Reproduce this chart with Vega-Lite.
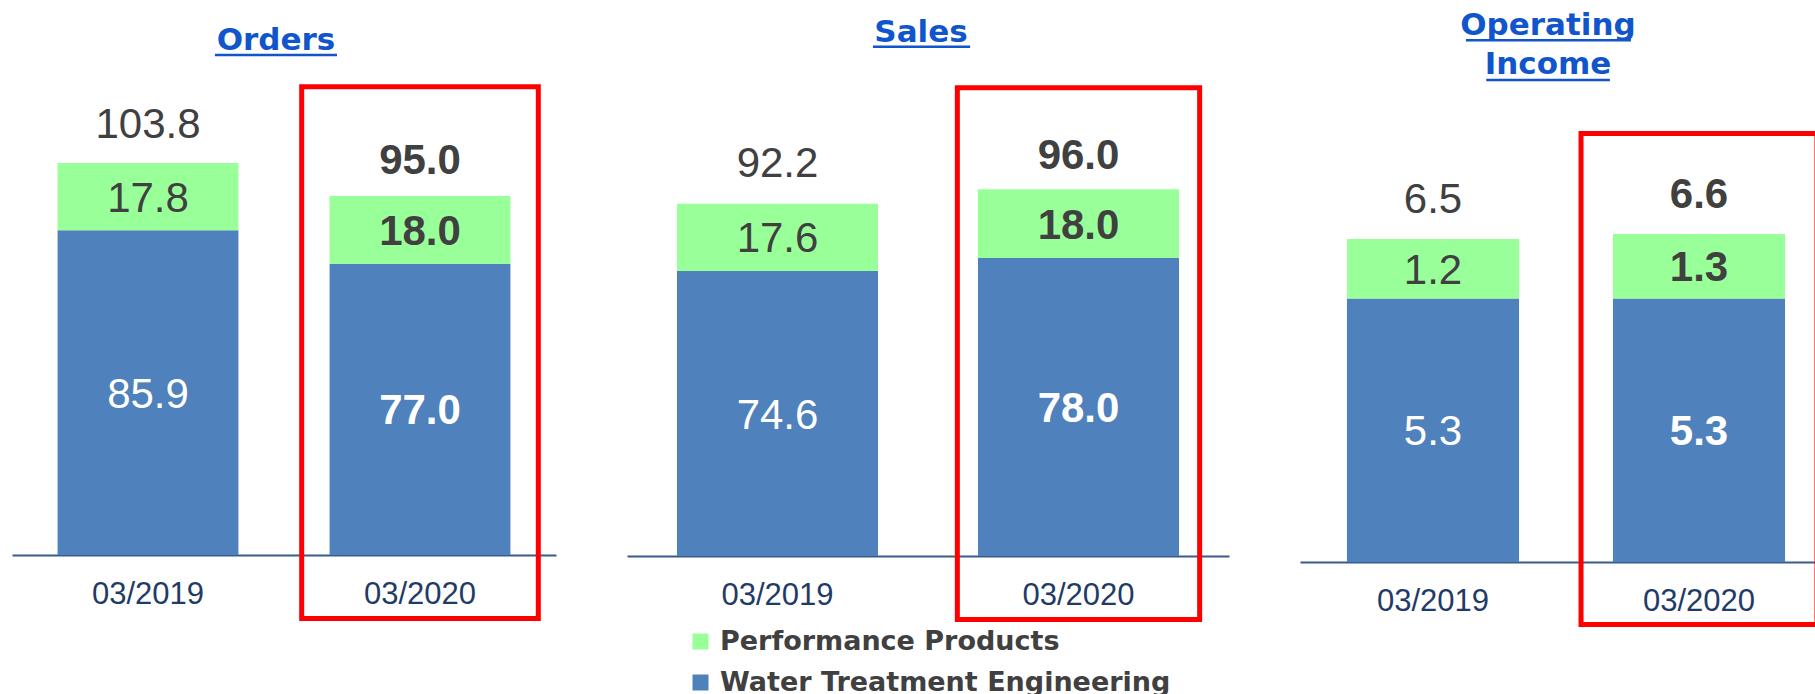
{
  "$schema": "https://vega.github.io/schema/vega-lite/v6.json",
  "padding": {"left": 12, "top": 9, "right": 0, "bottom": 0},
  "datasets": {
    "segments": [
      {"panel": "Orders", "period": "03/2019", "segment": "Water Treatment Engineering", "value": 85.9},
      {"panel": "Orders", "period": "03/2019", "segment": "Performance Products", "value": 17.8},
      {"panel": "Orders", "period": "03/2020", "segment": "Water Treatment Engineering", "value": 77.0},
      {"panel": "Orders", "period": "03/2020", "segment": "Performance Products", "value": 18.0},
      {"panel": "Sales", "period": "03/2019", "segment": "Water Treatment Engineering", "value": 74.6},
      {"panel": "Sales", "period": "03/2019", "segment": "Performance Products", "value": 17.6},
      {"panel": "Sales", "period": "03/2020", "segment": "Water Treatment Engineering", "value": 78.0},
      {"panel": "Sales", "period": "03/2020", "segment": "Performance Products", "value": 18.0},
      {"panel": "Operating Income", "period": "03/2019", "segment": "Water Treatment Engineering", "value": 5.3},
      {"panel": "Operating Income", "period": "03/2019", "segment": "Performance Products", "value": 1.2},
      {"panel": "Operating Income", "period": "03/2020", "segment": "Water Treatment Engineering", "value": 5.3},
      {"panel": "Operating Income", "period": "03/2020", "segment": "Performance Products", "value": 1.3}
    ],
    "totals": [
      {"panel": "Orders", "period": "03/2019", "total": 103.8},
      {"panel": "Orders", "period": "03/2020", "total": 95.0},
      {"panel": "Sales", "period": "03/2019", "total": 92.2},
      {"panel": "Sales", "period": "03/2020", "total": 96.0},
      {"panel": "Operating Income", "period": "03/2019", "total": 6.5},
      {"panel": "Operating Income", "period": "03/2020", "total": 6.6}
    ]
  },
  "spacing": 71,
  "bounds": "flush",
  "resolve": {"scale": {"color": "independent"}},
  "hconcat": [
    {
      "width": 544,
      "height": 471,
      "title": {"text": "Orders", "font": "DejaVu Sans", "fontWeight": "bold", "fontSize": 31, "color": "#1155CC", "baseline": "alphabetic", "offset": -27, "dx": -8, "anchor": "middle"},
      "layer": [
        {
          "data": {"name": "segments"},
          "transform": [{"filter": "datum.panel === 'Orders'"}],
          "mark": {"type": "bar", "width": {"band": 0.665}},
          "encoding": {
            "x": {"field": "period", "type": "nominal", "scale": {"paddingInner": 0, "paddingOuter": 0}, "axis": {"title": null}},
            "y": {"field": "value", "type": "quantitative", "stack": "zero", "scale": {"domain": [0, 124.6], "nice": false}, "axis": null},
            "color": {"field": "segment", "type": "nominal", "scale": {"domain": ["Performance Products", "Water Treatment Engineering"], "range": ["#99FF99", "#4F81BD"]}, "legend": null},
            "order": {"field": "segment", "sort": "descending"}
          }
        },
        {
          "data": {"name": "segments"},
          "transform": [{"filter": "datum.panel === 'Orders' && datum.period === '03/2019'"}],
          "mark": {"type": "text", "font": "Liberation Sans", "fontSize": 42, "baseline": "middle", "dy": 2},
          "encoding": {
            "x": {"field": "period", "type": "nominal"},
            "y": {"field": "value", "type": "quantitative", "stack": "zero", "bandPosition": 0.5},
            "order": {"field": "segment", "sort": "descending"},
            "text": {"field": "value", "type": "quantitative", "format": ".1f"},
            "color": {"condition": {"test": "datum.segment === 'Water Treatment Engineering'", "value": "#FFFFFF"}, "value": "#404040"}
          }
        },
        {
          "data": {"name": "segments"},
          "transform": [{"filter": "datum.panel === 'Orders' && datum.period === '03/2020'"}],
          "mark": {"type": "text", "font": "Liberation Sans", "fontSize": 42, "fontWeight": "bold", "baseline": "middle", "dy": 2},
          "encoding": {
            "x": {"field": "period", "type": "nominal"},
            "y": {"field": "value", "type": "quantitative", "stack": "zero", "bandPosition": 0.5},
            "order": {"field": "segment", "sort": "descending"},
            "text": {"field": "value", "type": "quantitative", "format": ".1f"},
            "color": {"condition": {"test": "datum.segment === 'Water Treatment Engineering'", "value": "#FFFFFF"}, "value": "#404040"}
          }
        },
        {
          "data": {"name": "totals"},
          "transform": [{"filter": "datum.panel === 'Orders' && datum.period === '03/2019'"}],
          "mark": {"type": "text", "font": "Liberation Sans", "fontSize": 42, "baseline": "middle", "dy": -38, "color": "#404040"},
          "encoding": {
            "x": {"field": "period", "type": "nominal"},
            "y": {"field": "total", "type": "quantitative"},
            "text": {"field": "total", "type": "quantitative", "format": ".1f"}
          }
        },
        {
          "data": {"name": "totals"},
          "transform": [{"filter": "datum.panel === 'Orders' && datum.period === '03/2020'"}],
          "mark": {"type": "text", "font": "Liberation Sans", "fontSize": 42, "fontWeight": "bold", "baseline": "middle", "dy": -35, "color": "#404040"},
          "encoding": {
            "x": {"field": "period", "type": "nominal"},
            "y": {"field": "total", "type": "quantitative"},
            "text": {"field": "total", "type": "quantitative", "format": ".1f"}
          }
        },
        {
          "data": {"values": [{}]},
          "mark": {"type": "bar", "filled": false, "stroke": "#FF0000", "strokeWidth": 5, "width": {"band": 0.87}},
          "encoding": {
            "x": {"datum": "03/2020", "type": "nominal"},
            "y": {"datum": 123.9, "type": "quantitative"},
            "y2": {"datum": -16.8}
          }
        },
        {
          "data": {"values": [{}]},
          "mark": {"type": "rule", "color": "#1155CC", "strokeWidth": 2.5},
          "encoding": {
            "x": {"datum": "03/2019", "type": "nominal", "bandPosition": 0.746},
            "x2": {"datum": "03/2020", "bandPosition": 0.195},
            "y": {"datum": 132.3, "type": "quantitative"}
          }
        }
      ]
    },
    {
      "width": 602,
      "height": 472,
      "title": {"text": "Sales", "font": "DejaVu Sans", "fontWeight": "bold", "fontSize": 31, "color": "#1155CC", "baseline": "alphabetic", "offset": -27, "dx": -7, "anchor": "middle"},
      "layer": [
        {
          "data": {"name": "segments"},
          "transform": [{"filter": "datum.panel === 'Sales'"}],
          "mark": {"type": "bar", "width": {"band": 0.668}},
          "encoding": {
            "x": {"field": "period", "type": "nominal", "scale": {"paddingInner": 0, "paddingOuter": 0}, "axis": {"title": null}},
            "y": {"field": "value", "type": "quantitative", "stack": "zero", "scale": {"domain": [0, 123.56], "nice": false}, "axis": null},
            "color": {"field": "segment", "type": "nominal", "scale": {"domain": ["Performance Products", "Water Treatment Engineering"], "range": ["#99FF99", "#4F81BD"]},
              "legend": {"orient": "none", "legendX": 60, "legendY": 544, "direction": "vertical", "title": null, "symbolType": "square", "symbolSize": 256, "symbolStrokeWidth": 0, "symbolOpacity": 1, "labelFont": "DejaVu Sans", "labelFontWeight": "bold", "labelFontSize": 27, "labelColor": "#404040", "labelOffset": 6, "rowPadding": 13, "padding": 0, "labelLimit": 0}},
            "order": {"field": "segment", "sort": "descending"}
          }
        },
        {
          "data": {"name": "segments"},
          "transform": [{"filter": "datum.panel === 'Sales' && datum.period === '03/2019'"}],
          "mark": {"type": "text", "font": "Liberation Sans", "fontSize": 42, "baseline": "middle", "dy": 2},
          "encoding": {
            "x": {"field": "period", "type": "nominal"},
            "y": {"field": "value", "type": "quantitative", "stack": "zero", "bandPosition": 0.5},
            "order": {"field": "segment", "sort": "descending"},
            "text": {"field": "value", "type": "quantitative", "format": ".1f"},
            "color": {"condition": {"test": "datum.segment === 'Water Treatment Engineering'", "value": "#FFFFFF"}, "value": "#404040"}
          }
        },
        {
          "data": {"name": "segments"},
          "transform": [{"filter": "datum.panel === 'Sales' && datum.period === '03/2020'"}],
          "mark": {"type": "text", "font": "Liberation Sans", "fontSize": 42, "fontWeight": "bold", "baseline": "middle", "dy": 2},
          "encoding": {
            "x": {"field": "period", "type": "nominal"},
            "y": {"field": "value", "type": "quantitative", "stack": "zero", "bandPosition": 0.5},
            "order": {"field": "segment", "sort": "descending"},
            "text": {"field": "value", "type": "quantitative", "format": ".1f"},
            "color": {"condition": {"test": "datum.segment === 'Water Treatment Engineering'", "value": "#FFFFFF"}, "value": "#404040"}
          }
        },
        {
          "data": {"name": "totals"},
          "transform": [{"filter": "datum.panel === 'Sales' && datum.period === '03/2019'"}],
          "mark": {"type": "text", "font": "Liberation Sans", "fontSize": 42, "baseline": "middle", "dy": -40, "color": "#404040"},
          "encoding": {
            "x": {"field": "period", "type": "nominal"},
            "y": {"field": "total", "type": "quantitative"},
            "text": {"field": "total", "type": "quantitative", "format": ".1f"}
          }
        },
        {
          "data": {"name": "totals"},
          "transform": [{"filter": "datum.panel === 'Sales' && datum.period === '03/2020'"}],
          "mark": {"type": "text", "font": "Liberation Sans", "fontSize": 42, "fontWeight": "bold", "baseline": "middle", "dy": -33, "color": "#404040"},
          "encoding": {
            "x": {"field": "period", "type": "nominal"},
            "y": {"field": "total", "type": "quantitative"},
            "text": {"field": "total", "type": "quantitative", "format": ".1f"}
          }
        },
        {
          "data": {"values": [{}]},
          "mark": {"type": "bar", "filled": false, "stroke": "#FF0000", "strokeWidth": 5, "width": {"band": 0.805}},
          "encoding": {
            "x": {"datum": "03/2020", "type": "nominal"},
            "y": {"datum": 122.6, "type": "quantitative"},
            "y2": {"datum": -16.6}
          }
        },
        {
          "data": {"values": [{}]},
          "mark": {"type": "rule", "color": "#1155CC", "strokeWidth": 2.5},
          "encoding": {
            "x": {"datum": "03/2019", "type": "nominal", "bandPosition": 0.817},
            "x2": {"datum": "03/2020", "bandPosition": 0.14},
            "y": {"datum": 133.3, "type": "quantitative"}
          }
        }
      ]
    },
    {
      "width": 532,
      "height": 478,
      "title": {"text": ["Operating", "Income"], "font": "DejaVu Sans", "fontWeight": "bold", "fontSize": 31, "lineHeight": 39, "color": "#1155CC", "baseline": "alphabetic", "offset": -66, "dx": -18, "anchor": "middle"},
      "layer": [
        {
          "data": {"name": "segments"},
          "transform": [{"filter": "datum.panel === 'Operating Income'"}],
          "mark": {"type": "bar", "width": {"band": 0.647}},
          "encoding": {
            "x": {"field": "period", "type": "nominal", "scale": {"paddingInner": 0, "paddingOuter": 0}, "axis": {"title": null}},
            "y": {"field": "value", "type": "quantitative", "stack": "zero", "scale": {"domain": [0, 9.618], "nice": false}, "axis": null},
            "color": {"field": "segment", "type": "nominal", "scale": {"domain": ["Performance Products", "Water Treatment Engineering"], "range": ["#99FF99", "#4F81BD"]}, "legend": null},
            "order": {"field": "segment", "sort": "descending"}
          }
        },
        {
          "data": {"name": "segments"},
          "transform": [{"filter": "datum.panel === 'Operating Income' && datum.period === '03/2019'"}],
          "mark": {"type": "text", "font": "Liberation Sans", "fontSize": 42, "baseline": "middle", "dy": 2},
          "encoding": {
            "x": {"field": "period", "type": "nominal"},
            "y": {"field": "value", "type": "quantitative", "stack": "zero", "bandPosition": 0.5},
            "order": {"field": "segment", "sort": "descending"},
            "text": {"field": "value", "type": "quantitative", "format": ".1f"},
            "color": {"condition": {"test": "datum.segment === 'Water Treatment Engineering'", "value": "#FFFFFF"}, "value": "#404040"}
          }
        },
        {
          "data": {"name": "segments"},
          "transform": [{"filter": "datum.panel === 'Operating Income' && datum.period === '03/2020'"}],
          "mark": {"type": "text", "font": "Liberation Sans", "fontSize": 42, "fontWeight": "bold", "baseline": "middle", "dy": 2},
          "encoding": {
            "x": {"field": "period", "type": "nominal"},
            "y": {"field": "value", "type": "quantitative", "stack": "zero", "bandPosition": 0.5},
            "order": {"field": "segment", "sort": "descending"},
            "text": {"field": "value", "type": "quantitative", "format": ".1f"},
            "color": {"condition": {"test": "datum.segment === 'Water Treatment Engineering'", "value": "#FFFFFF"}, "value": "#404040"}
          }
        },
        {
          "data": {"name": "totals"},
          "transform": [{"filter": "datum.panel === 'Operating Income' && datum.period === '03/2019'"}],
          "mark": {"type": "text", "font": "Liberation Sans", "fontSize": 42, "baseline": "middle", "dy": -39, "color": "#404040"},
          "encoding": {
            "x": {"field": "period", "type": "nominal"},
            "y": {"field": "total", "type": "quantitative"},
            "text": {"field": "total", "type": "quantitative", "format": ".1f"}
          }
        },
        {
          "data": {"name": "totals"},
          "transform": [{"filter": "datum.panel === 'Operating Income' && datum.period === '03/2020'"}],
          "mark": {"type": "text", "font": "Liberation Sans", "fontSize": 42, "fontWeight": "bold", "baseline": "middle", "dy": -39, "color": "#404040"},
          "encoding": {
            "x": {"field": "period", "type": "nominal"},
            "y": {"field": "total", "type": "quantitative"},
            "text": {"field": "total", "type": "quantitative", "format": ".1f"}
          }
        },
        {
          "data": {"values": [{}]},
          "mark": {"type": "bar", "filled": false, "stroke": "#FF0000", "strokeWidth": 5, "width": {"band": 0.887}},
          "encoding": {
            "x": {"datum": "03/2020", "type": "nominal"},
            "y": {"datum": 8.62, "type": "quantitative"},
            "y2": {"datum": -1.26}
          }
        },
        {
          "data": {"values": [{}]},
          "mark": {"type": "rule", "color": "#1155CC", "strokeWidth": 2.5},
          "encoding": {
            "x": {"datum": "03/2019", "type": "nominal", "bandPosition": 0.624},
            "x2": {"datum": "03/2020", "bandPosition": 0.244},
            "y": {"datum": 10.5, "type": "quantitative"}
          }
        },
        {
          "data": {"values": [{}]},
          "mark": {"type": "rule", "color": "#1155CC", "strokeWidth": 2.5},
          "encoding": {
            "x": {"datum": "03/2019", "type": "nominal", "bandPosition": 0.70},
            "x2": {"datum": "03/2020", "bandPosition": 0.165},
            "y": {"datum": 9.70, "type": "quantitative"}
          }
        }
      ]
    }
  ],
  "config": {
    "view": {"stroke": null},
    "axis": {"domainColor": "#385D8A", "domainWidth": 2, "ticks": false, "tickSize": 0, "grid": false, "labelFont": "Liberation Sans", "labelFontSize": 31, "labelColor": "#1F3B66", "labelPadding": 24, "labelAngle": 0}
  }
}
